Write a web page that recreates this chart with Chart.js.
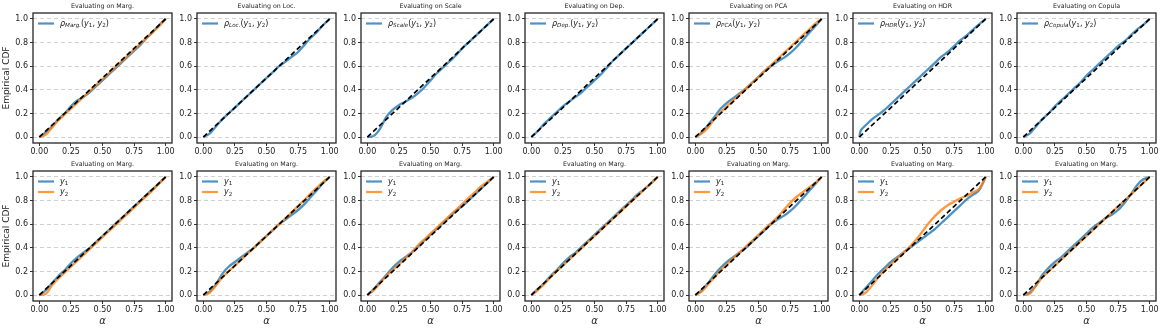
<!DOCTYPE html>
<html>
<head>
<meta charset="utf-8">
<script src="https://cdn.jsdelivr.net/npm/chart.js@4.4.1/dist/chart.umd.min.js"></script>
<style>
  body { margin: 0; background: #fff; width: 1163px; height: 329px; position: relative; overflow: hidden; }
  canvas { position: absolute; }
</style>
</head>
<body>
<script>
// Grille commune en alpha
const alpha = [0, 0.05, 0.1, 0.15, 0.2, 0.25, 0.3, 0.35, 0.4, 0.45, 0.5, 0.55, 0.6, 0.65, 0.7, 0.75, 0.8, 0.85, 0.9, 0.95, 1];
const hdrAlpha = [0, 0.01, 0.03, 0.05, 0.1, 0.15, 0.2, 0.25, 0.3, 0.35, 0.4, 0.45, 0.5, 0.55, 0.6, 0.65, 0.7, 0.75, 0.8, 0.85, 0.9, 0.95, 1];
const xTicks = [0, 0.25, 0.5, 0.75, 1];
const yTicks = [0, 0.2, 0.4, 0.6, 0.8, 1];
const diagX = [0, 1];
const diagY = [0, 1];

// Ligne du haut : titres et indices
const topTitles = ['Evaluating on Marg.', 'Evaluating on Loc.', 'Evaluating on Scale', 'Evaluating on Dep.', 'Evaluating on PCA', 'Evaluating on HDR', 'Evaluating on Copula'];
const topSubs = ['Marg.', 'Loc.', 'Scale', 'Dep.', 'PCA', 'HDR', 'Copula'];
const bottomTitle = 'Evaluating on Marg.';

// Ligne du haut : courbes rho
const rhoMarg   = [0, 0.04, 0.09, 0.15, 0.20, 0.26, 0.31, 0.34, 0.38, 0.43, 0.48, 0.53, 0.58, 0.63, 0.68, 0.73, 0.78, 0.84, 0.89, 0.95, 1];
const rhoLoc    = [0, 0.03, 0.09, 0.15, 0.20, 0.25, 0.30, 0.35, 0.40, 0.45, 0.50, 0.55, 0.60, 0.64, 0.68, 0.72, 0.78, 0.84, 0.89, 0.95, 1];
const rhoScale  = [0, 0.01, 0.07, 0.17, 0.23, 0.27, 0.30, 0.33, 0.37, 0.42, 0.48, 0.54, 0.59, 0.64, 0.69, 0.75, 0.80, 0.85, 0.90, 0.95, 1];
const rhoDep    = [0, 0.05, 0.11, 0.16, 0.21, 0.26, 0.30, 0.34, 0.38, 0.43, 0.48, 0.53, 0.59, 0.65, 0.70, 0.75, 0.80, 0.85, 0.90, 0.95, 1];
const rhoPca    = [0, 0.04, 0.10, 0.17, 0.24, 0.29, 0.33, 0.37, 0.41, 0.46, 0.51, 0.56, 0.60, 0.64, 0.67, 0.71, 0.76, 0.82, 0.88, 0.94, 1];
const rhoHdr    = [0, 0.05, 0.08, 0.10, 0.15, 0.19, 0.23, 0.28, 0.33, 0.38, 0.43, 0.48, 0.53, 0.58, 0.63, 0.68, 0.72, 0.77, 0.82, 0.86, 0.91, 0.955, 1];
const rhoCopula = [0, 0.03, 0.09, 0.15, 0.20, 0.26, 0.31, 0.36, 0.41, 0.46, 0.52, 0.57, 0.62, 0.67, 0.72, 0.77, 0.81, 0.86, 0.91, 0.95, 1];
const orangeMarg = [0, 0.02, 0.08, 0.14, 0.19, 0.24, 0.29, 0.34, 0.39, 0.44, 0.49, 0.54, 0.59, 0.64, 0.69, 0.74, 0.79, 0.84, 0.89, 0.94, 1];
const orangePca  = [0, 0.03, 0.08, 0.15, 0.21, 0.26, 0.31, 0.36, 0.41, 0.46, 0.51, 0.56, 0.61, 0.66, 0.71, 0.76, 0.81, 0.86, 0.91, 0.96, 1];

// Ligne du bas : y1 et y2
const y1Marg1 = [0, 0.04, 0.10, 0.16, 0.21, 0.27, 0.32, 0.36, 0.40, 0.45, 0.50, 0.55, 0.60, 0.65, 0.70, 0.75, 0.80, 0.85, 0.90, 0.95, 1];
const y2Marg1 = [0, 0.01, 0.08, 0.14, 0.19, 0.24, 0.29, 0.34, 0.39, 0.44, 0.49, 0.54, 0.59, 0.64, 0.69, 0.74, 0.79, 0.84, 0.89, 0.945, 1];
const y1Marg2 = [0, 0.03, 0.09, 0.18, 0.24, 0.28, 0.32, 0.36, 0.40, 0.45, 0.50, 0.55, 0.60, 0.64, 0.68, 0.72, 0.77, 0.83, 0.89, 0.95, 1];
const y2Marg2 = [0, 0.02, 0.08, 0.15, 0.20, 0.25, 0.30, 0.35, 0.40, 0.45, 0.50, 0.55, 0.60, 0.65, 0.70, 0.755, 0.805, 0.86, 0.91, 0.96, 1];
const y1Marg3 = [0, 0.05, 0.11, 0.17, 0.23, 0.28, 0.32, 0.36, 0.41, 0.46, 0.51, 0.56, 0.61, 0.66, 0.71, 0.75, 0.80, 0.85, 0.90, 0.95, 1];
const y2Marg3 = [0, 0.04, 0.10, 0.16, 0.21, 0.26, 0.31, 0.36, 0.42, 0.47, 0.52, 0.57, 0.62, 0.67, 0.72, 0.77, 0.82, 0.87, 0.92, 0.96, 1];
const y1Marg4 = [0, 0.05, 0.10, 0.16, 0.21, 0.27, 0.32, 0.36, 0.41, 0.46, 0.51, 0.56, 0.61, 0.66, 0.71, 0.76, 0.81, 0.86, 0.90, 0.95, 1];
const y2Marg4 = [0, 0.04, 0.09, 0.15, 0.20, 0.25, 0.30, 0.35, 0.40, 0.45, 0.50, 0.55, 0.60, 0.65, 0.70, 0.75, 0.80, 0.85, 0.90, 0.95, 1];
const y1Marg5 = [0, 0.04, 0.10, 0.17, 0.23, 0.28, 0.32, 0.36, 0.40, 0.45, 0.50, 0.55, 0.60, 0.64, 0.67, 0.71, 0.76, 0.82, 0.88, 0.94, 1];
const y2Marg5 = [0, 0.03, 0.09, 0.15, 0.21, 0.26, 0.31, 0.36, 0.41, 0.46, 0.51, 0.56, 0.61, 0.66, 0.72, 0.78, 0.83, 0.87, 0.91, 0.95, 1];
const y1Marg6 = [0, 0.06, 0.12, 0.18, 0.23, 0.28, 0.32, 0.36, 0.40, 0.44, 0.48, 0.52, 0.56, 0.61, 0.66, 0.71, 0.76, 0.81, 0.85, 0.89, 1];
const y2Marg6 = [0, 0.02, 0.08, 0.15, 0.21, 0.26, 0.31, 0.36, 0.41, 0.47, 0.54, 0.61, 0.67, 0.72, 0.76, 0.79, 0.82, 0.84, 0.87, 0.90, 1];
const y1Marg7 = [0, 0.02, 0.08, 0.17, 0.23, 0.28, 0.32, 0.37, 0.42, 0.47, 0.52, 0.57, 0.61, 0.65, 0.68, 0.72, 0.78, 0.85, 0.93, 0.98, 1];
const y2Marg7 = [0, 0.01, 0.08, 0.15, 0.20, 0.25, 0.30, 0.35, 0.40, 0.45, 0.50, 0.55, 0.60, 0.65, 0.70, 0.75, 0.80, 0.85, 0.90, 0.95, 1];

const BLUE = 'rgba(31,119,180,0.8)';
const ORANGE = 'rgba(255,127,14,0.8)';
const FONT = "'DejaVu Sans', sans-serif";

const pts = (xs, ys) => xs.map((x, i) => ({ x: x, y: ys[i] }));

// Dessine une suite de morceaux de texte (indices compris)
function drawRuns(ctx, x, y, runs) {
  ctx.textBaseline = 'middle';
  ctx.textAlign = 'left';
  for (const r of runs) {
    ctx.font = (r.italic ? 'italic ' : '') + (r.sub ? '5.6px ' : '8px ') + FONT;
    ctx.fillText(r.t, x, y + (r.sub ? 2.2 : 0));
    x += ctx.measureText(r.t).width;
  }
}

// Cadre, titre et légende du panneau
const decor = {
  id: 'decor',
  afterDraw(chart, args, opts) {
    const { ctx, chartArea: a } = chart;
    ctx.save();
    ctx.strokeStyle = '#262626';
    ctx.lineWidth = 1.3;
    ctx.strokeRect(a.left, a.top, a.right - a.left, a.bottom - a.top);
    ctx.fillStyle = '#222';
    ctx.font = '6.3px ' + FONT;
    ctx.textAlign = 'center';
    ctx.textBaseline = 'middle';
    ctx.fillText(opts.title, (a.left + a.right) / 2, a.top - 7);
    opts.legend.forEach((item, i) => {
      const ly = a.top + 10.5 + i * 10.5;
      ctx.strokeStyle = item.color;
      ctx.lineWidth = 2.2;
      ctx.beginPath();
      ctx.moveTo(a.left + 5, ly);
      ctx.lineTo(a.left + 21, ly);
      ctx.stroke();
      ctx.fillStyle = '#222';
      drawRuns(ctx, a.left + 27, ly, item.runs);
    });
    ctx.restore();
  }
};

const rhoRuns = sub => [
  { t: 'ρ', italic: true }, { t: sub, italic: true, sub: true },
  { t: '(' }, { t: 'y', italic: true }, { t: '1', sub: true },
  { t: ', ' }, { t: 'y', italic: true }, { t: '2', sub: true }, { t: ')' }
];
const yRuns = n => [{ t: 'y', italic: true }, { t: n, sub: true }];

const topBlue = [rhoMarg, rhoLoc, rhoScale, rhoDep, rhoPca, rhoHdr, rhoCopula];
const topOrange = [orangeMarg, null, null, null, orangePca, null, null];
const bottomBlue = [y1Marg1, y1Marg2, y1Marg3, y1Marg4, y1Marg5, y1Marg6, y1Marg7];
const bottomOrange = [y2Marg1, y2Marg2, y2Marg3, y2Marg4, y2Marg5, y2Marg6, y2Marg7];

function makePanel(row, col) {
  const L = 33 + 164 * col;
  const T = row ? 171 : 13;
  const c = document.createElement('canvas');
  c.width = 184;
  c.height = 171;
  c.style.left = (L - 33) + 'px';
  c.style.top = (T - 13) + 'px';
  document.body.appendChild(c);

  const blue = row ? bottomBlue[col] : topBlue[col];
  const blueX = (!row && col === 5) ? hdrAlpha : alpha;
  const orange = row ? bottomOrange[col] : topOrange[col];

  const line = color => ({ borderColor: color, borderWidth: 2.3, pointRadius: 0, cubicInterpolationMode: 'monotone', fill: false });
  const datasets = [
    { data: pts(diagX, diagY), borderColor: '#000', borderWidth: 1.7, borderDash: [5, 3], pointRadius: 0, tension: 0 }
  ];
  if (orange) datasets.push(Object.assign({ data: pts(alpha, orange) }, line(ORANGE)));
  datasets.push(Object.assign({ data: pts(blueX, blue) }, line(BLUE)));

  const legend = row
    ? [{ color: BLUE, runs: yRuns('1') }, { color: ORANGE, runs: yRuns('2') }]
    : [{ color: BLUE, runs: rhoRuns(topSubs[col]) }];

  new Chart(c, {
    type: 'line',
    data: { datasets: datasets },
    options: {
      responsive: false,
      animation: false,
      events: [],
      layout: { padding: { left: 0, top: 13, right: 12, bottom: 0 } },
      plugins: {
        legend: { display: false },
        tooltip: { enabled: false },
        decor: { title: row ? bottomTitle : topTitles[col], legend: legend }
      },
      scales: {
        x: {
          type: 'linear', min: -0.05, max: 1.05,
          afterBuildTicks: s => { s.ticks = xTicks.map(v => ({ value: v })); },
          afterFit: s => { s.height = 28; },
          ticks: { callback: v => v.toFixed(2), font: { family: FONT, size: 8 }, color: '#222', padding: 1, maxRotation: 0, autoSkip: false },
          grid: { drawOnChartArea: false, drawTicks: true, tickLength: 3, tickColor: '#333' },
          border: { display: false },
          title: { display: row === 1, text: 'α', font: { family: FONT, size: 10, style: 'italic' }, color: '#222', padding: { bottom: 2 } }
        },
        y: {
          type: 'linear', min: -0.05, max: 1.05,
          afterBuildTicks: s => { s.ticks = yTicks.map(v => ({ value: v })); },
          afterFit: s => { s.width = 33; },
          ticks: { callback: v => v.toFixed(1), font: { family: FONT, size: 8 }, color: '#222', padding: 2, autoSkip: false },
          grid: { color: '#d0d0d0', lineWidth: 1, tickLength: 3, tickColor: '#333', tickBorderDash: [] },
          border: { display: false, dash: [4, 3] },
          title: { display: col === 0, text: 'Empirical CDF', font: { family: FONT, size: 9 }, color: '#222', padding: { top: 1.5 } }
        }
      }
    },
    plugins: [decor]
  });
}

for (let r = 0; r < 2; r++) {
  for (let c = 0; c < 7; c++) makePanel(r, c);
}
</script>
</body>
</html>
